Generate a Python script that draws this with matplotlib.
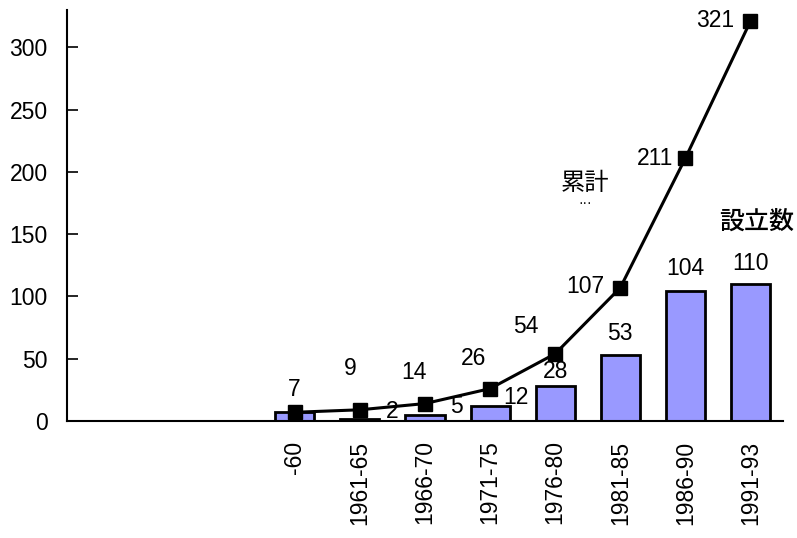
import matplotlib
matplotlib.use("Agg")
import matplotlib.pyplot as plt
import numpy as np

plt.rcParams['font.family'] = ['Liberation Sans', 'Noto Sans CJK JP', 'DejaVu Sans']

# Period categories (three leading blank slots on the axis)
periods = ["", "", "", "-60", "1961-65", "1966-70", "1971-75",
           "1976-80", "1981-85", "1986-90", "1991-93"]
# Number established in each period
established = [7, 2, 5, 12, 28, 53, 104, 110]
# Cumulative total
cumulative = [7, 9, 14, 26, 54, 107, 211, 321]

# label centre offsets in pixels (dx, dy upward); None hides the label
bar_label_offsets = [None, (32, 7), (31, 8), (26, 9), (0, 15), (0, 21), (0, 23), (0, 21)]
cum_label_offsets = [(-1, 23), (-10, 41), (-11, 31), (-17, 30), (-29, 27), (-35, 1), (-30, 0), (-35, 1)]

PX = 72 / 100  # points per pixel

fig = plt.figure(figsize=(7.97, 5.38), dpi=100)
ax = fig.add_axes([67 / 797, 117 / 538, 716 / 797, 411 / 538])

x_all = np.arange(len(periods))
offset = len(periods) - len(established)
x = x_all[offset:]

ax.bar(x, established, width=0.6, color="#9999FF", edgecolor="black", linewidth=2.0, zorder=2)
ax.plot(x, cumulative, color="black", linewidth=2.2, marker="s", markersize=9.5,
        markerfacecolor="black", zorder=3)

fs = 16.5
for xi, v, off in zip(x, established, bar_label_offsets):
    if off is None:
        continue
    ax.annotate(str(v), (xi, v), xytext=(off[0] * PX, off[1] * PX), textcoords="offset points",
                ha="center", va="center", fontsize=fs)
for xi, v, off in zip(x, cumulative, cum_label_offsets):
    ax.annotate(str(v), (xi, v), xytext=(off[0] * PX, off[1] * PX), textcoords="offset points",
                ha="center", va="center", fontsize=fs)

ax.text(7.46, 191, "累計", fontsize=17.5, ha="center", va="center",
        family=["Noto Sans CJK JP", "DejaVu Sans"])
ax.text(7.46, 175, "···", fontsize=10, ha="center", va="center")
ax.text(10.1, 160, "設立数", fontsize=18, ha="center", va="center", fontweight="medium",
        family=["Noto Sans CJK JP", "DejaVu Sans"])

ax.set_xlim(-0.5, len(periods) - 0.5)
ax.set_ylim(0, 330)
ax.set_yticks([0, 50, 100, 150, 200, 250, 300])
ax.set_xticks(x_all)
ax.set_xticklabels(periods, rotation=90, fontsize=fs)
ax.tick_params(axis="x", length=0, pad=14)
ax.tick_params(axis="y", direction="in", length=8, width=1.2, labelsize=fs, pad=14)

ax.spines["top"].set_visible(False)
ax.spines["right"].set_visible(False)
ax.spines["left"].set_linewidth(1.5)
ax.spines["bottom"].set_linewidth(1.5)

fig.savefig("out.png", dpi=100)
